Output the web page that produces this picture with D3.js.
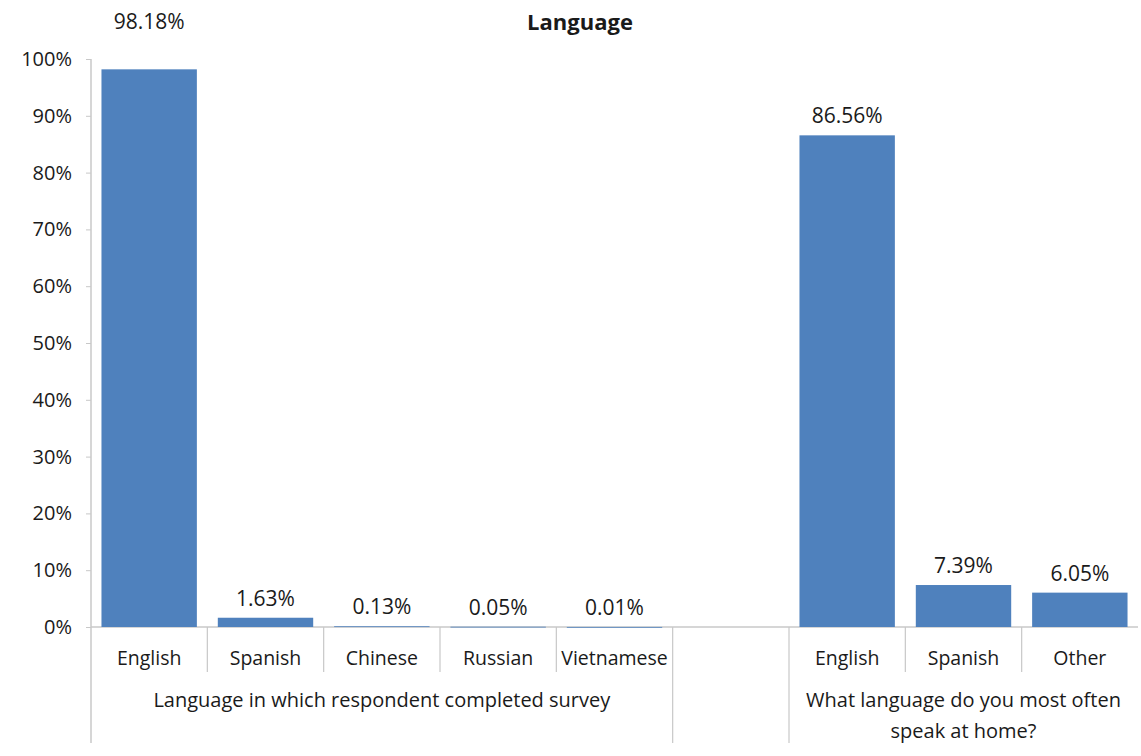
<!DOCTYPE html>
<html><head><meta charset="utf-8">
<script src="https://cdn.jsdelivr.net/npm/d3@7"></script>
<style>body{margin:0;background:#fff;} text{font-family:"Open Sans",Lato,sans-serif;fill:#1a1a1a;}</style>
</head><body>
<svg id="c" width="1141" height="756"></svg>
<script>
const categories = ["English","Spanish","Chinese","Russian","Vietnamese","","English ","Spanish ","Other"];
const values = [98.18,1.63,0.13,0.05,0.01,null,86.56,7.39,6.05];
const valueLabels = ["98.18%","1.63%","0.13%","0.05%","0.01%","","86.56%","7.39%","6.05%"];
const yTicks = [0,10,20,30,40,50,60,70,80,90,100];
const groups = [
  {label:["Language in which respondent completed survey"], from:0, to:4},
  {label:["What language do you most often","speak at home?"], from:6, to:8}
];
const title = "Language";

(function(){
const svg = d3.select("#c");
const pL = 91, pR = 1138, pT = 59, pB = 627;
const x = d3.scaleBand().domain(categories).range([pL,pR]).paddingInner(0.18).paddingOuter(0.09);
const y = d3.scaleLinear().domain([0,100]).range([pB,pT]);
const step = x.step();
const gridColor = "#c8c8c8";

svg.append("text").attr("x",580).attr("y",30).attr("text-anchor","middle")
  .style("font-weight","bold").style("font-size","22px").text(title);

const yAxis = d3.axisLeft(y).tickValues(yTicks).tickFormat(d=>d+"%").tickSize(5).tickSizeOuter(0);
const gy = svg.append("g").attr("transform",`translate(${pL},0)`).call(yAxis);
gy.select(".domain").remove();
gy.selectAll(".tick line").attr("stroke",gridColor);
gy.selectAll(".tick text").attr("x",-19).style("font-size","20px").style("font-family","'Open Sans',sans-serif").attr("fill","#1a1a1a");
svg.append("line").attr("x1",pL).attr("x2",pL).attr("y1",pT).attr("y2",743).attr("stroke",gridColor).attr("stroke-width",1.5);

svg.append("line").attr("x1",pL).attr("x2",pR).attr("y1",pB).attr("y2",pB).attr("stroke",gridColor).attr("stroke-width",1.5);

const data = categories.map((c,i)=>({c,v:values[i],l:valueLabels[i]})).filter(d=>d.v!==null);
svg.selectAll("rect.bar").data(data).enter().append("rect").attr("class","bar")
  .attr("x",d=>x(d.c)).attr("width",x.bandwidth())
  .attr("y",d=>y(d.v)).attr("height",d=>Math.max(0.8,pB-y(d.v)))
  .attr("fill","#4f81bd");
svg.selectAll("text.vl").data(data).enter().append("text").attr("class","vl")
  .attr("x",d=>x(d.c)+x.bandwidth()/2)
  .attr("y",d=>{ const t = y(d.v)-12; return t < pT+5 ? 29 : t; })
  .attr("text-anchor","middle").style("font-size","21px").text(d=>d.l);

svg.selectAll("text.cat").data(categories).enter().append("text").attr("class","cat")
  .attr("x",d=>x(d)+x.bandwidth()/2).attr("y",665).attr("text-anchor","middle")
  .style("font-size","19.5px").text(d=>d.trim());

d3.range(1,categories.length).forEach(idx=>{
  const bx = pL + step*idx;
  const isGroup = (idx===5 || idx===6);
  svg.append("line").attr("x1",bx).attr("x2",bx).attr("y1",pB).attr("y2",isGroup?743:672)
    .attr("stroke",gridColor).attr("stroke-width",1.2);
});

groups.forEach(g=>{
  const cx = pL + step*(g.from + (g.to - g.from + 1)/2);
  g.label.forEach((t,k)=>{
    svg.append("text").attr("x",cx).attr("y",707+k*31).attr("text-anchor","middle")
      .style("font-size","20px").text(t);
  });
});
})();
</script>
</body></html>
